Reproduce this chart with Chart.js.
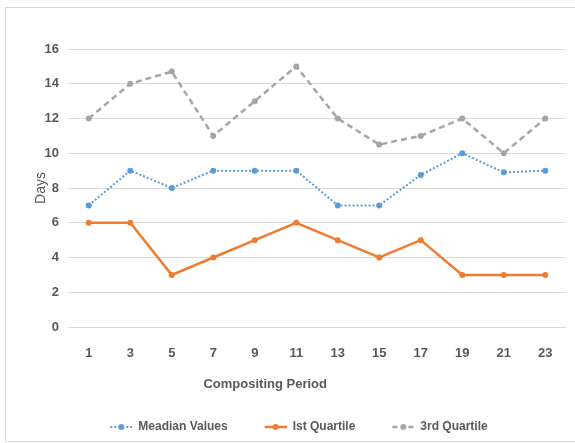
<!DOCTYPE html>
<html>
<head>
<meta charset="utf-8">
<script src="https://cdn.jsdelivr.net/npm/chart.js@4/dist/chart.umd.min.js"></script>
<style>
  html, body { margin: 0; padding: 0; background: #fff; }
  #wrap { position: relative; width: 575px; height: 443px; }
</style>
</head>
<body>
<div id="wrap"><canvas id="c" width="575" height="443"></canvas></div>
<script>
// Compositing periods (x categories)
const periods = ['1', '3', '5', '7', '9', '11', '13', '15', '17', '19', '21', '23'];
// Days per period
const medianValues  = [7, 9, 8, 9, 9, 9, 7, 7, 8.75, 10, 8.9, 9];
const firstQuartile = [6, 6, 3, 4, 5, 6, 5, 4, 5, 3, 3, 3];
const thirdQuartile = [12, 14, 14.7, 11, 13, 15, 12, 10.5, 11, 12, 10, 12];
// Value axis ticks
const dayTicks = [0, 2, 4, 6, 8, 10, 12, 14, 16];

const seriesNames = ['Meadian Values', 'Ist Quartile', '3rd Quartile'];

const BLUE = '#5b9bd5', ORANGE = '#ed7d31', GREY = '#a5a5a5', TEXT = '#595959';
const NARROW = "'Liberation Sans Narrow', 'Arial Narrow', 'Liberation Sans', Arial, sans-serif";

// Legend swatch: short styled line with a dot, left part kept empty for spacing
function legendMarker(color, dash, lw) {
  const c = document.createElement('canvas');
  c.width = 54; c.height = 10;
  const g = c.getContext('2d');
  g.strokeStyle = color; g.lineWidth = lw; g.setLineDash(dash);
  g.beginPath(); g.moveTo(32, 5); g.lineTo(54, 5); g.stroke();
  g.setLineDash([]);
  g.fillStyle = color;
  g.beginPath(); g.arc(43, 5, 3, 0, Math.PI * 2); g.fill();
  return c;
}
const markers = [
  legendMarker(BLUE, [2, 2], 2),
  legendMarker(ORANGE, [], 2.5),
  legendMarker(GREY, [5, 3], 2.5)
];

const frame = {
  id: 'frame',
  beforeDraw(chart) {
    const ctx = chart.ctx;
    ctx.save();
    ctx.fillStyle = '#fff';
    ctx.fillRect(0, 0, chart.width, chart.height);
    ctx.strokeStyle = '#d9d9d9';
    ctx.lineWidth = 1;
    ctx.strokeRect(5.5, 7.5, chart.width, chart.height - 9);
    ctx.restore();
  }
};

const xTitle = {
  id: 'xTitle',
  afterDraw(chart) {
    const x = chart.scales.x;
    const ctx = chart.ctx;
    ctx.save();
    ctx.font = 'bold 13px ' + NARROW;
    ctx.fillStyle = TEXT;
    ctx.textAlign = 'center';
    ctx.textBaseline = 'middle';
    ctx.fillText('Compositing Period', x.left + x.width * 0.396, x.top + 57);
    ctx.restore();
  }
};

new Chart(document.getElementById('c'), {
  type: 'line',
  data: {
    labels: periods,
    datasets: [
      {
        label: seriesNames[0], data: medianValues,
        borderColor: BLUE, backgroundColor: BLUE,
        borderWidth: 2, borderDash: [2, 2],
        pointRadius: 3, pointHoverRadius: 3, pointBorderWidth: 0
      },
      {
        label: seriesNames[1], data: firstQuartile,
        borderColor: ORANGE, backgroundColor: ORANGE,
        borderWidth: 2.5,
        pointRadius: 3, pointHoverRadius: 3, pointBorderWidth: 0
      },
      {
        label: seriesNames[2], data: thirdQuartile,
        borderColor: GREY, backgroundColor: GREY,
        borderWidth: 2.5, borderDash: [6, 4],
        pointRadius: 3, pointHoverRadius: 3, pointBorderWidth: 0
      }
    ]
  },
  options: {
    responsive: false,
    animation: false,
    layout: { padding: { left: 0, right: 9, top: 49, bottom: 0 } },
    plugins: {
      tooltip: { enabled: false },
      legend: {
        position: 'bottom',
        labels: {
          usePointStyle: true,
          pointStyleWidth: 54,
          padding: 5,
          color: TEXT,
          font: { family: NARROW, size: 12, weight: 'bold' },
          generateLabels(chart) {
            const items = Chart.defaults.plugins.legend.labels.generateLabels(chart);
            items.forEach((it, i) => { it.pointStyle = markers[i]; });
            return items;
          }
        }
      }
    },
    scales: {
      x: {
        offset: true,
        grid: { display: false, drawTicks: false },
        border: { display: false },
        ticks: { color: TEXT, padding: 19, font: { family: NARROW, size: 13, weight: 'bold' } },
        afterFit(scale) { scale.height = 89; }
      },
      y: {
        min: 0, max: 16,
        afterBuildTicks(scale) { scale.ticks = dayTicks.map(v => ({ value: v })); },
        grid: { color: '#d9d9d9', drawTicks: false },
        border: { display: false },
        ticks: { color: TEXT, padding: 9, font: { family: NARROW, size: 13, weight: 'bold' } },
        title: {
          display: true, text: 'Days', color: TEXT,
          padding: { top: 33, bottom: 0 },
          font: { family: "'Liberation Sans', Arial, sans-serif", size: 14 }
        },
        afterFit(scale) { scale.width = 68; }
      }
    }
  },
  plugins: [frame, xTitle]
});
</script>
</body>
</html>
